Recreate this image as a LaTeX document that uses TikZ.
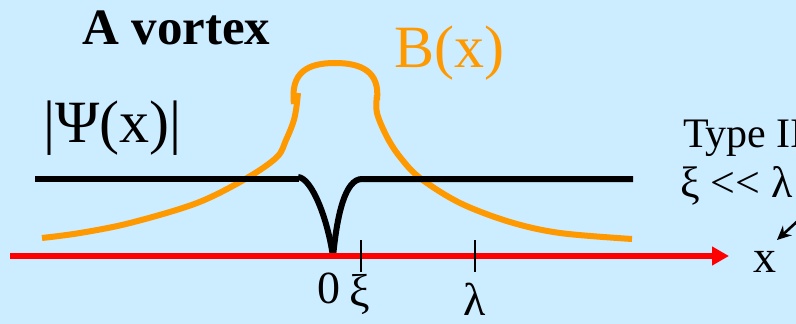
\documentclass[tikz,border=0pt]{standalone}
\usepackage{fontspec}
\setmainfont{Liberation Serif}
\usetikzlibrary{arrows.meta}
\definecolor{bgblue}{RGB}{204,236,255}
\definecolor{borange}{RGB}{255,153,0}
\definecolor{axisred}{RGB}{255,0,0}
\tikzset{
  lbl/.style={anchor=base west, inner sep=0pt, outer sep=0pt},
  psiline/.style={draw=black, line width=6pt},
  bline/.style={draw=borange, line width=6pt},
  axisline/.style={draw=axisred, line width=6pt, -{Triangle[length=17pt,width=18pt]}},
  tickline/.style={draw=black, line width=2pt},
  pointer/.style={draw=black, line width=2.6pt, -{Stealth[length=14pt,width=13pt]}}
}
\newcommand{\fs}[1]{\fontsize{#1}{#1}\selectfont}
\begin{document}
\begin{tikzpicture}[x=1pt,y=-1pt]
\path[use as bounding box, fill=bgblue] (0,0) rectangle (796,324);
\clip (0,0) rectangle (796,324);

% texts
\node[lbl] (title) at (82,45) {\fs{51}\bfseries A vortex};
\node[lbl] (psi) at (43,142) {\fs{60}|Ψ(x)|};
\node[lbl, text=borange] (bx) at (394,67) {\fs{60}B(x)};
\node[lbl] (type) at (683,147) {\fs{42}Type II};
\node[lbl] (cond) at (680,197) {\fs{44}ξ <{}< λ};
\node[lbl] (xlab) at (753,272) {\fs{46}x};
\node[lbl] (zero) at (317,303) {\fs{46}0};
\node[lbl] (xi) at (349,306) {\fs{46}ξ};
\node[lbl] (lam) at (463,315) {\fs{46}λ};

% orange B(x)
\draw[bline] plot[smooth, tension=0.55] coordinates {(298,93) (296,110) (293,123) (286,140) (277,157) (247,178) (197,203) (130,223) (80,233) (42,238)};
\draw[bline] plot[smooth, tension=0.55] coordinates {(377,95) (377,113) (387,137) (400,157) (420,178) (460,203) (510,222) (560,233) (632,239)};
\draw[bline] (294,104) .. controls (290,72) and (308,63) .. (335,63) .. controls (362,63) and (380,72) .. (377,100);

% |Psi(x)|
\draw[psiline] (35,179) -- (299,179);
\draw[psiline] (298,177) .. controls (312,178) and (328,220) .. (333,257);
\draw[psiline] (333,257) .. controls (337,215) and (345,179) .. (362,179) -- (633,179);

% axis
\coordinate (axstart) at (10,256);
\coordinate (axend) at (729,256);
\draw[axisline] (axstart) -- (axend);

% ticks
\coordinate (xitop) at (361,240);
\coordinate (xibot) at (361,272);
\coordinate (lamtop) at (475,240);
\coordinate (lambot) at (475,272);
\draw[tickline] (xitop) -- (xibot);
\draw[tickline] (lamtop) -- (lambot);

% pointer arrow
\coordinate (pfrom) at (802,217);
\coordinate (pto) at (777,240);
\draw[pointer] (pfrom) -- (pto);
\end{tikzpicture}
\end{document}
